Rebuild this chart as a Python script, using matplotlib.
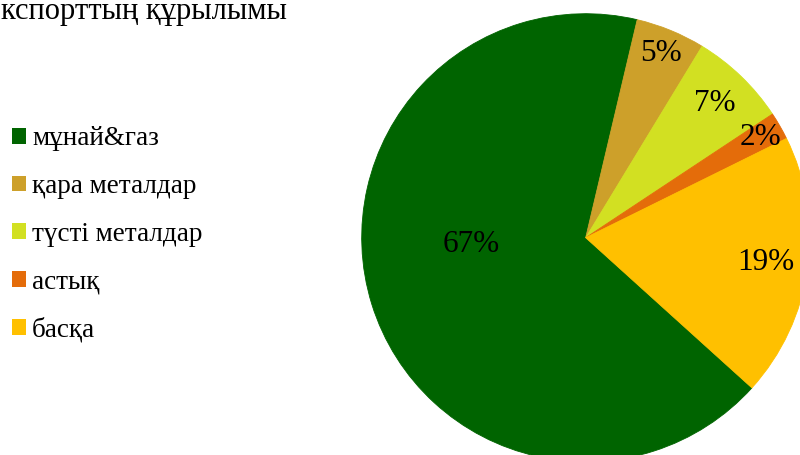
import matplotlib
matplotlib.use("Agg")
import numpy as np
import matplotlib.pyplot as plt
from matplotlib.patches import Patch

plt.rcParams["font.family"] = ["Liberation Serif", "DejaVu Serif"]

# data
title = "кспорттың құрылымы"
categories = ["мұнай&газ", "қара металдар", "түсті металдар", "астық", "басқа"]
shares = [67, 5, 7, 2, 19]
colors = ["#006400", "#CDA02A", "#D2E022", "#E46C0A", "#FFC000"]

# radial position of each percentage label (fraction of radius)
label_radius = [None, 0.89, 0.83, 0.9, 0.81]

fig = plt.figure(figsize=(8, 4.55), dpi=100)

# pie axes: centre ~ (586, 238) px, radius ~224 px
cx, cy, r = 585.7, 237.7, 224
ax = fig.add_axes([(cx - r) / 800, (455 - cy - r) / 455, 2 * r / 800, 2 * r / 455])
wedges, texts, autotexts = ax.pie(
    shares,
    colors=colors,
    startangle=-42.1,
    counterclock=False,
    autopct="%d%%",
    pctdistance=0.86,
    wedgeprops=dict(linewidth=0.6, edgecolor="none"),
    textprops=dict(fontsize=22.5, color="black"),
)
for w, c in zip(wedges, colors):
    w.set_edgecolor(c)

for w, t, rad in zip(wedges, autotexts, label_radius):
    if rad is None:
        continue
    mid = np.deg2rad((w.theta1 + w.theta2) / 2)
    t.set_position((rad * np.cos(mid), rad * np.sin(mid)))
# Excel "best fit" put the big label near the middle-left
autotexts[0].set_position((-0.51, -0.03))

ax.set_xlim(-1, 1)
ax.set_ylim(-1, 1)
ax.set_aspect("equal")
ax.axis("off")

fig.text(1 / 800, 1 - 18.7 / 455, title, fontsize=22, ha="left", va="baseline")

handles = [Patch(facecolor=c, edgecolor="none") for c in colors]
fig.legend(
    handles,
    categories,
    loc="center left",
    bbox_to_anchor=(12 / 800, 1 - 234.5 / 455),
    frameon=False,
    fontsize=19.5,
    borderpad=0,
    borderaxespad=0,
    handlelength=0.52,
    handleheight=0.52,
    handletextpad=0.22,
    labelspacing=0.84,
)

fig.savefig("out.png", dpi=100)
